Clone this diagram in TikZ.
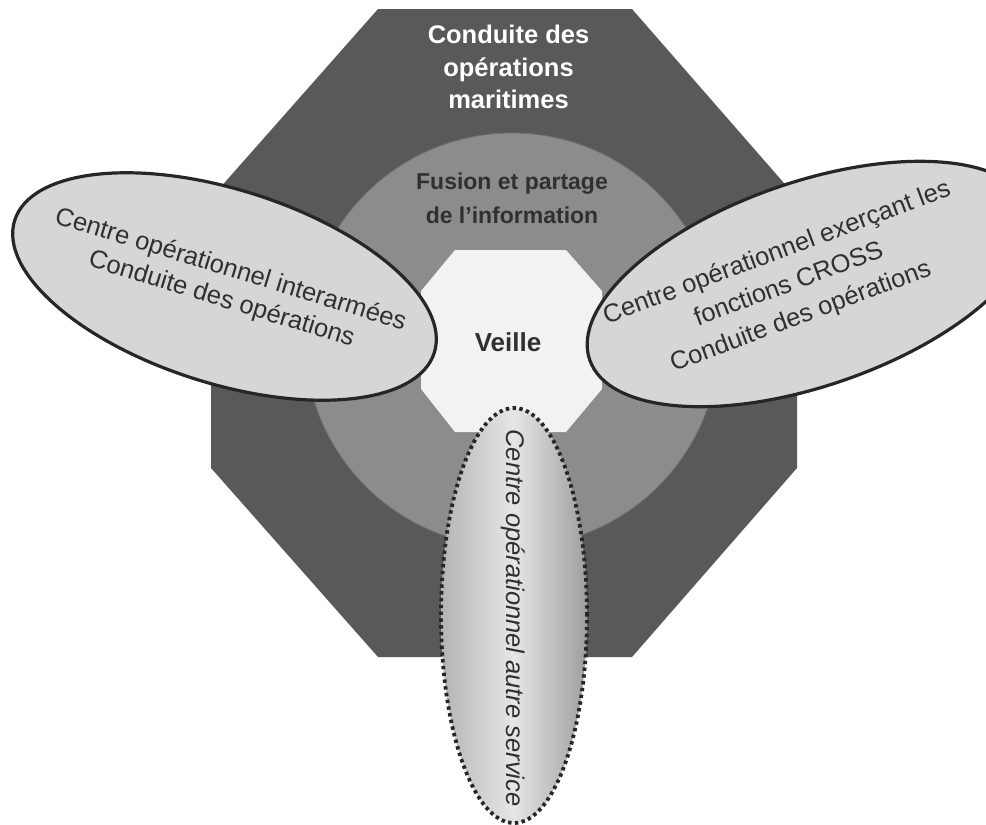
\documentclass[tikz,border=0pt]{standalone}
\usepackage{fontspec}
\setmainfont{Liberation Sans}
\usetikzlibrary{shapes.geometric}
\definecolor{octdark}{HTML}{595959}
\definecolor{ringgray}{HTML}{8C8C8C}
\definecolor{ringedge}{HTML}{6E6E6E}
\definecolor{coreblank}{HTML}{F2F2F2}
\definecolor{ovalfill}{HTML}{D6D6D6}
\definecolor{inkdark}{HTML}{262626}
\definecolor{textdark}{HTML}{303030}
\definecolor{shadeedgeL}{HTML}{B4B4B4}
\definecolor{shadeedgeR}{HTML}{9E9E9E}
\definecolor{shademid}{HTML}{E6E6E6}
\begin{document}
\begin{tikzpicture}[x=1pt,y=-1pt,
  oval/.style={ellipse, draw=inkdark, line width=3.2pt, fill=ovalfill, inner sep=0pt},
  ovaltext/.style={align=center, text=textdark, inner sep=0pt},
  boldlabel/.style={align=center, inner sep=0pt, font=\bfseries}
]
\useasboundingbox (0,0) rectangle (986,825);
\clip (0,0) rectangle (986,825);
% outer octagon
\fill[octdark] (378,9) -- (632,9) -- (797,198) -- (797,468) -- (632,657)
  -- (378,657) -- (211,468) -- (211,198) -- cycle;
% ring
\node[circle, fill=ringgray, draw=ringedge, line width=0.8pt, minimum size=414pt, inner sep=0pt] (ring) at (512,340) {};
% inner octagon
\fill[coreblank] (455,250) -- (566,250) -- (602,291) -- (602,389) -- (566,432)
  -- (455,432) -- (421,389) -- (421,291) -- cycle;
% labels of the three layers
\node[boldlabel, text=white, font=\bfseries\fontsize{25.5}{32.5}\selectfont] (ttl) at (508.5,67)
  {Conduite des\\opérations\\maritimes};
\node[boldlabel, text=textdark, font=\bfseries\fontsize{23}{34}\selectfont] (fus) at (512,198)
  {Fusion et partage\\de l’information};
\node[boldlabel, text=textdark, font=\bfseries\fontsize{26}{31}\selectfont] (veille) at (508,342) {Veille};
% left oval
\node[oval, rotate=-17.5, minimum width=440pt, minimum height=194pt] (leftoval) at (224.5,286.5) {};
\node[ovaltext, rotate=-17, font=\fontsize{25.5}{31}\selectfont] (lefttext) at (226,285)
  {Centre opérationnel interarmées\\Conduite des opérations};
% right oval
\node[oval, rotate=19, minimum width=466pt, minimum height=204pt] (rightoval) at (810,284) {};
\node[ovaltext, rotate=20.5, font=\fontsize{25.5}{34}\selectfont] (righttext) at (789,285)
  {Centre opérationnel exerçant les\\fonctions CROSS\\Conduite des opérations};
% bottom oval
\node[ellipse, draw=inkdark, line width=3.8pt, dash pattern=on 3.4pt off 3.4pt,
  left color=shadeedgeL, right color=shadeedgeR, middle color=shademid,
  minimum width=146pt, minimum height=415pt, inner sep=0pt] (bottomoval) at (514,615.5) {};
\node[ovaltext, rotate=-90, font=\itshape\fontsize{25.5}{31}\selectfont] (bottomtext) at (513,618)
  {Centre opérationnel autre service};
\end{tikzpicture}
\end{document}
